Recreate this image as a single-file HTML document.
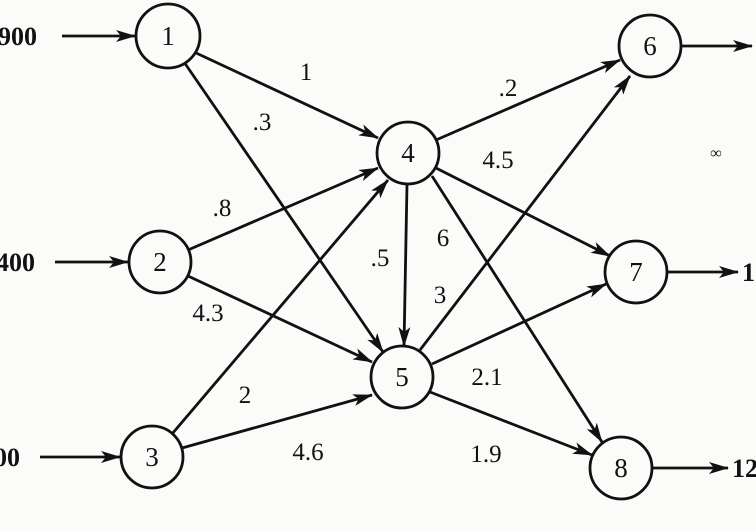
<!DOCTYPE html>
<html><head><style>
html,body{margin:0;padding:0;background:#fbfbf9;}
svg{display:block;}
text{font-family:"Liberation Serif",serif;fill:#111;}
</style></head><body>
<svg width="756" height="531" viewBox="0 0 756 531" xmlns="http://www.w3.org/2000/svg">
<defs>
<marker id="h" viewBox="0 0 20 12" refX="19" refY="6" markerWidth="20" markerHeight="12" orient="auto" markerUnits="userSpaceOnUse">
<path d="M0,0 L20,6 L0,12 L5,6 Z" fill="#111"/>
</marker>
</defs>
<g stroke="#111" stroke-width="2.8" fill="none" marker-end="url(#h)">
<line x1="62" y1="36" x2="135" y2="36"/>
<line x1="55" y1="262" x2="128" y2="262"/>
<line x1="40" y1="457" x2="120" y2="457"/>
<line x1="681" y1="46" x2="752" y2="46"/>
<line x1="667" y1="272" x2="738" y2="272"/>
<line x1="652" y1="468" x2="728" y2="468"/>
<line x1="194" y1="52" x2="378" y2="138"/>
<line x1="184" y1="62" x2="383" y2="352"/>
<line x1="188" y1="250" x2="378" y2="168"/>
<line x1="188" y1="276" x2="372" y2="362"/>
<line x1="172" y1="434" x2="388" y2="180"/>
<line x1="182" y1="448" x2="372" y2="395"/>
<line x1="436" y1="140" x2="620" y2="60"/>
<line x1="436" y1="168" x2="610" y2="256"/>
<line x1="432" y1="176" x2="602" y2="442"/>
<line x1="407" y1="184" x2="404" y2="346"/>
<line x1="420" y1="350" x2="630" y2="76"/>
<line x1="432" y1="364" x2="606" y2="284"/>
<line x1="430" y1="392" x2="592" y2="455"/>
</g>
<g stroke="#111" stroke-width="2.8" fill="#fbfbf9">
<circle cx="168" cy="36" r="32"/>
<circle cx="160" cy="262" r="31"/>
<circle cx="152" cy="457" r="31"/>
<circle cx="408" cy="153" r="31"/>
<circle cx="402" cy="377" r="31"/>
<circle cx="650" cy="46" r="31"/>
<circle cx="636" cy="272" r="31"/>
<circle cx="621" cy="468" r="31"/>
</g>
<g font-size="27" text-anchor="middle">
<text x="168" y="45">1</text>
<text x="160" y="271">2</text>
<text x="152" y="466">3</text>
<text x="408" y="162">4</text>
<text x="402" y="386">5</text>
<text x="650" y="55">6</text>
<text x="636" y="281">7</text>
<text x="621" y="477">8</text>
</g>
<g font-size="26" font-weight="bold">
<text x="-2" y="45">900</text>
<text x="-4" y="271">400</text>
<text x="-6" y="466">00</text>
<text x="742" y="281">1</text>
<text x="732" y="477">12</text>
</g>
<g font-size="25" text-anchor="middle">
<text x="306" y="80">1</text>
<text x="262" y="130">.3</text>
<text x="508" y="96">.2</text>
<text x="498" y="168">4.5</text>
<text x="222" y="216">.8</text>
<text x="443" y="246">6</text>
<text x="380" y="266">.5</text>
<text x="440" y="303">3</text>
<text x="208" y="321">4.3</text>
<text x="487" y="385">2.1</text>
<text x="245" y="403">2</text>
<text x="308" y="460">4.6</text>
<text x="486" y="462">1.9</text>
<text x="716" y="158" font-size="16" font-style="italic">∞</text>
</g>
</svg>
</body></html>
